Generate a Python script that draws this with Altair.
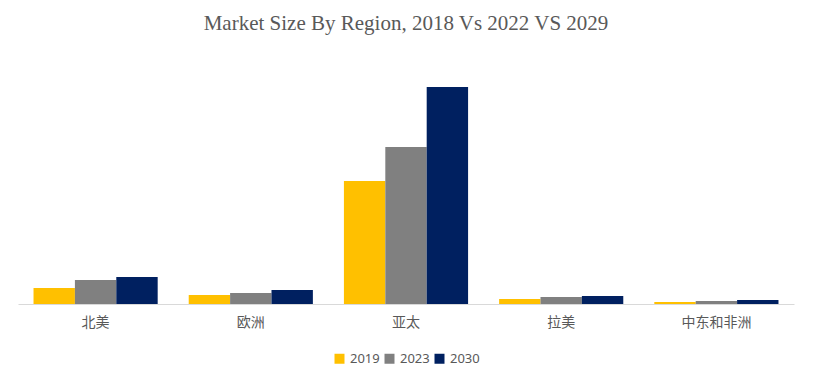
import altair as alt
import pandas as pd

regions = ["北美", "欧洲", "亚太", "拉美", "中东和非洲"]
years = ["2019", "2023", "2030"]
v2019 = [16, 9, 123, 5, 2]
v2023 = [24, 11, 157, 7, 3]
v2030 = [27, 14, 217, 8, 4]

rows = []
for i, r in enumerate(regions):
    for y, vals in zip(years, [v2019, v2023, v2030]):
        rows.append({"region": r, "year": y, "value": vals[i]})
df = pd.DataFrame(rows)

colors = ["#FFC000", "#808080", "#002060"]

chart = alt.Chart(df).mark_bar().encode(
    x=alt.X("region:N", sort=regions,
            scale=alt.Scale(paddingInner=0.2, paddingOuter=0.1),
            axis=alt.Axis(title=None, labelAngle=0, ticks=False,
                          domainColor="#d9d9d9", labelColor="#595959",
                          labelFont="Noto Sans CJK SC", labelFontSize=14,
                          labelPadding=11, grid=False)),
    xOffset=alt.XOffset("year:N", sort=years, scale=alt.Scale(paddingInner=0, paddingOuter=0)),
    y=alt.Y("value:Q", scale=alt.Scale(domain=[0, 244], nice=False, zero=True),
            axis=None),
    color=alt.Color("year:N", sort=years,
                    scale=alt.Scale(domain=years, range=colors),
                    legend=alt.Legend(title=None, orient="none", direction="horizontal",
                                      legendX=315, legendY=292,
                                      symbolType="square", symbolSize=100,
                                      symbolStrokeWidth=0,
                                      labelFont="Noto Sans", labelFontSize=13,
                                      labelColor="#595959", columnPadding=3,
                                      labelOffset=4)),
).properties(
    width=776, height=244,
    title=alt.TitleParams("Market Size By Region, 2018 Vs 2022 VS 2029",
                          font="Liberation Serif", fontSize=21, fontWeight="normal",
                          color="#595959", offset=26, anchor="middle"),
    padding={"left": 10, "top": 52, "right": 12, "bottom": 72},
    autosize=alt.AutoSizeParams(type="none"),
).configure_view(stroke=None)

chart.save("out.html", embed_options={"renderer": "svg", "actions": False})
